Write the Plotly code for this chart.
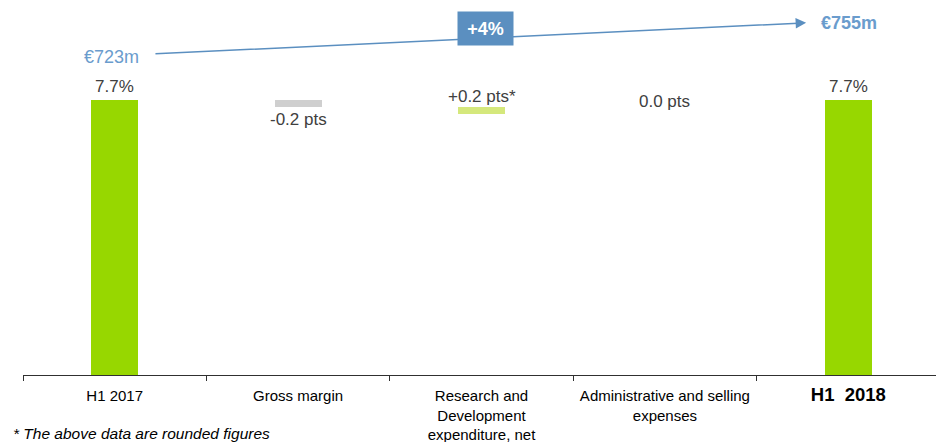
import plotly.graph_objects as go

# Operating margin bridge, H1 2017 -> H1 2018
categories = [
    "H1 2017",
    "Gross margin",
    "Research and<br>Development<br>expenditure, net",
    "Administrative and selling<br>expenses",
    "<span style='font-size:18.5px'><b>H1  2018</b></span>",
]
bar_values = [7.7, -0.2, 0.2, 0.0, 7.7]   # margin (%) or change (pts)
bar_bases = [0.0, 7.7, 7.3, 7.5, 0.0]
bar_colors = ["#97D700", "#CFCFCF", "#D5E87C", "#CFCFCF", "#97D700"]
value_labels = ["7.7%", "-0.2 pts", "+0.2 pts*", "0.0 pts", "7.7%"]
label_shift = [14, -12.5, 10.5, 5.5, 14]

revenue_start, revenue_end = "€723m", "€755m"
revenue_growth = "+4%"
footnote = "* The above data are rounded figures"

blue = "#5B8FC0"
label_blue = "#6A9CCD"
text_grey = "#404040"

fig = go.Figure()
fig.add_trace(go.Bar(
    x=categories,
    y=bar_values,
    base=bar_bases,
    width=0.256,
    marker=dict(color=bar_colors, line=dict(width=0)),
    hoverinfo="skip",
))

annotations = []
for i, (lab, v, b, s) in enumerate(zip(value_labels, bar_values, bar_bases, label_shift)):
    top = max(b, b + v)
    bottom = min(b, b + v)
    anchor_y = bottom if s < 0 else top
    annotations.append(dict(
        x=i, y=anchor_y, xref="x", yref="y", text=lab, showarrow=False,
        yanchor="middle", yshift=s,
        font=dict(family="Liberation Sans, Arial", size=17, color=text_grey),
    ))

# revenue arrow
annotations.append(dict(
    x=3.77, y=9.86, ax=0.214, ay=8.99, xref="x", yref="y", axref="x", ayref="y",
    text="", showarrow=True, arrowhead=2, arrowsize=1.4, arrowwidth=1.5,
    arrowcolor=blue, standoff=0, startstandoff=0,
))
annotations.append(dict(
    x=-0.017, y=8.905, xref="x", yref="y", text=revenue_start, showarrow=False,
    font=dict(family="Liberation Sans, Arial", size=18, color=label_blue),
))
annotations.append(dict(
    x=4.001, y=9.857, xref="x", yref="y", text="<b>" + revenue_end + "</b>", showarrow=False,
    font=dict(family="Liberation Sans, Arial", size=18, color=label_blue),
))
annotations.append(dict(
    x=2.022, y=9.69, xref="x", yref="y", text="<b>" + revenue_growth + "</b>", showarrow=False,
    bgcolor=blue, width=55, height=33, borderpad=0,
    font=dict(family="Liberation Sans, Arial", size=18, color="white"),
))
annotations.append(dict(
    x=-0.013, y=-0.157, xref="paper", yref="paper", text="<i>" + footnote + "</i>",
    showarrow=False, xanchor="left", yanchor="middle",
    font=dict(family="Liberation Sans, Arial", size=15.5, color="black"),
))

fig.update_layout(
    width=936, height=442,
    margin=dict(l=23, r=0, t=0, b=67),
    plot_bgcolor="white", paper_bgcolor="white",
    showlegend=False,
    bargap=0,
    annotations=annotations,
    xaxis=dict(
        range=[-0.5, 4.478],
        showline=True, linecolor="#303030", linewidth=1,
        ticks="outside", tickson="boundaries", ticklen=5, tickcolor="#303030",
        ticklabelstandoff=7, tickangle=0, automargin=False,
        tickfont=dict(family="Liberation Sans, Arial", size=15, color="black"),
        showgrid=False, zeroline=False,
    ),
    yaxis=dict(range=[0, 10.5], visible=False, showgrid=False, zeroline=False,
               automargin=False),
)

fig.write_html("out.html")
